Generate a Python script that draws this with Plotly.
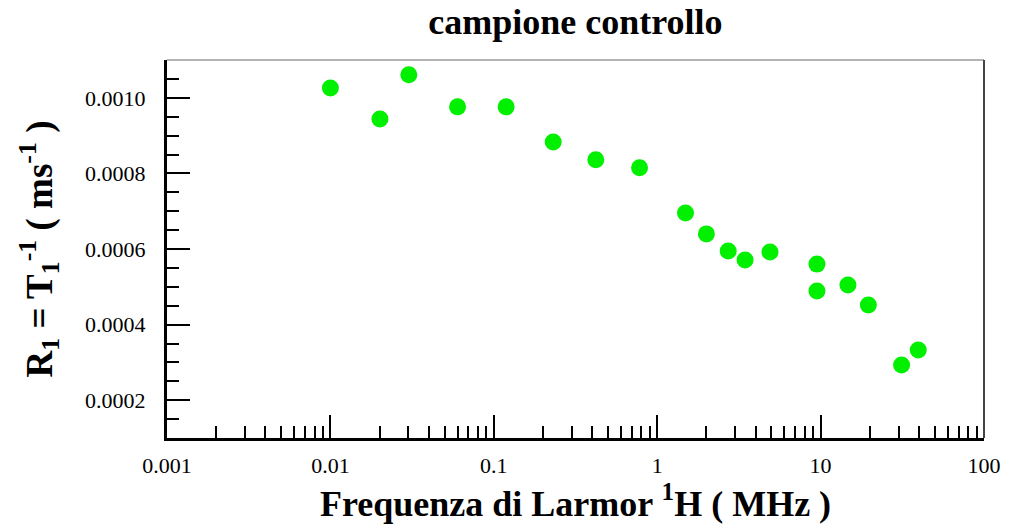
import plotly.graph_objects as go

# Larmor frequency (MHz) and longitudinal relaxation rate R1 (1/ms)
freq_mhz = [0.01, 0.0201, 0.0302, 0.060, 0.119, 0.231, 0.421, 0.78, 1.49, 2.0,
            2.72, 3.45, 4.9, 9.5, 9.5, 14.7, 19.6, 31.3, 39.6]
r1_per_ms = [0.001026, 0.000944, 0.001061, 0.000976, 0.000976, 0.000883, 0.000836,
             0.000815, 0.000695, 0.000640, 0.000595, 0.000571, 0.000592, 0.000560,
             0.000489, 0.000505, 0.000452, 0.000293, 0.000333]

x_major = [0.001, 0.01, 0.1, 1, 10, 100]
x_major_text = ["0.001", "0.01", "0.1", "1", "10", "100"]
y_major = [0.0002, 0.0004, 0.0006, 0.0008, 0.0010]

x_minor = [m * d for d in x_major[:-1] for m in range(2, 10)]

FONT = "Liberation Serif, Times New Roman, serif"

fig = go.Figure()
fig.add_trace(go.Scatter(
    x=freq_mhz, y=r1_per_ms, mode="markers",
    marker=dict(size=17, color="#00f000", line=dict(width=0)),
    showlegend=False,
))

fig.update_layout(
    width=1013, height=531,
    margin=dict(l=167, r=25, t=60, b=93),
    paper_bgcolor="white", plot_bgcolor="white",
    font=dict(family=FONT, color="black"),
    title=dict(text="<b>campione controllo</b>", x=0.568, xref="container", xanchor="center",
               y=1, yref="container", yanchor="top", pad=dict(t=9),
               font=dict(family=FONT, size=36, color="black")),
    xaxis=dict(
        type="log", range=[-3, 2],
        tickmode="array", tickvals=x_major, ticktext=x_major_text,
        ticks="inside", ticklen=23, tickwidth=2, tickcolor="black",
        minor=dict(tickmode="array", tickvals=x_minor, ticks="inside",
                   ticklen=12, tickwidth=2, tickcolor="black"),
        showline=True, linewidth=3, linecolor="black",
        showgrid=False, zeroline=False,
        tickfont=dict(family=FONT, size=22),
        ticklabelstandoff=6,
        title=dict(text="<b>Frequenza di Larmor <sup>1</sup>H ( MHz )</b>",
                   font=dict(family=FONT, size=36), standoff=5),
    ),
    yaxis=dict(
        range=[0.0001, 0.0011],
        tickmode="array", tickvals=y_major, tickformat=".4f",
        ticks="inside", ticklen=23, tickwidth=2, tickcolor="black",
        minor=dict(tick0=0, dtick=0.00005, ticks="inside",
                   ticklen=12, tickwidth=2, tickcolor="black"),
        showline=True, linewidth=3, linecolor="black",
        showgrid=False, zeroline=False,
        tickfont=dict(family=FONT, size=22),
        ticklabelstandoff=14,
        title=dict(text="<b>R<sub>1</sub> = T<sub>1</sub><sup>-1</sup> ( ms<sup>-1</sup> )</b>",
                   font=dict(family=FONT, size=37), standoff=22),
    ),
    shapes=[
        dict(type="line", xref="paper", yref="paper", x0=0, x1=1, y0=1, y1=1,
             line=dict(color="#9a9a9a", width=1.5)),
        dict(type="line", xref="paper", yref="paper", x0=1, x1=1, y0=0, y1=1,
             line=dict(color="#444444", width=2)),
    ],
)

fig.write_html("out.html")
